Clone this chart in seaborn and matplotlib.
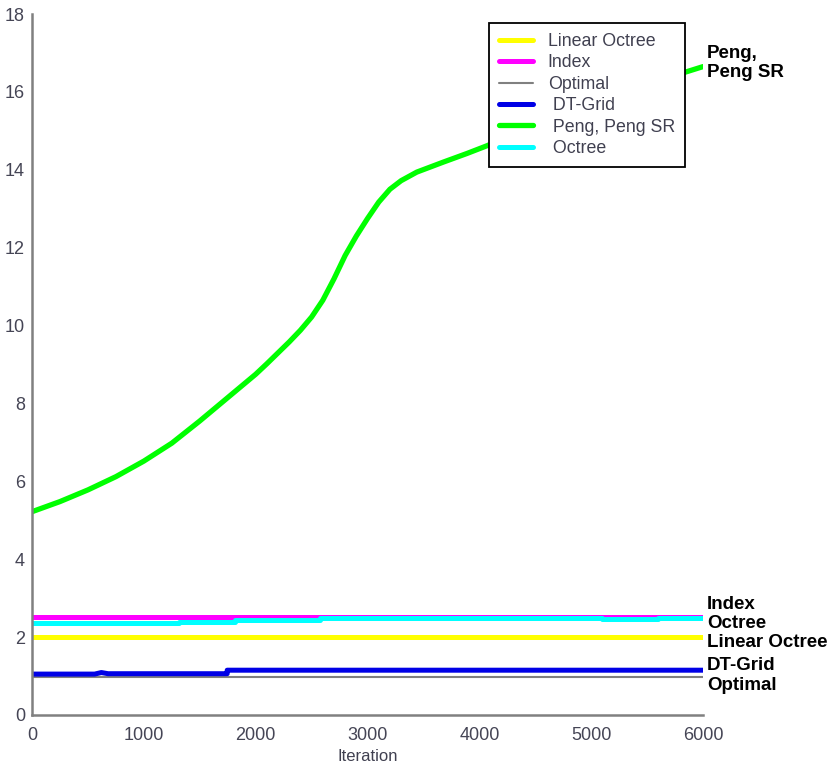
import matplotlib
matplotlib.use("Agg")
import matplotlib.pyplot as plt
import seaborn as sns
import pandas as pd
from matplotlib.lines import Line2D

# Memory usage per method over iterations
peng_iter = [0, 250, 500, 750, 1000, 1250, 1500, 1750, 2000, 2100, 2200, 2300, 2400, 2500,
             2600, 2700, 2800, 2900, 3000, 3100, 3200, 3300, 3440, 3680, 3890, 4070,
             4500, 5000, 5500, 6000]
peng_val = [5.22, 5.48, 5.78, 6.12, 6.52, 6.98, 7.55, 8.15, 8.75, 9.02, 9.3, 9.58, 9.88, 10.22,
            10.65, 11.2, 11.8, 12.3, 12.75, 13.17, 13.5, 13.72, 13.94, 14.2, 14.42, 14.62,
            15.15, 15.7, 16.2, 16.65]

index_iter = [0, 6000]
index_val = [2.52, 2.52]

octree_iter = [0, 1317, 1317, 1816, 1816, 2577, 2577, 5100, 5100, 5600, 5600, 6000]
octree_val = [2.36, 2.36, 2.40, 2.40, 2.44, 2.44, 2.49, 2.49, 2.47, 2.47, 2.50, 2.50]

linear_iter = [0, 6000]
linear_val = [2.0, 2.0]

dtgrid_iter = [0, 560, 620, 680, 1745, 1745, 6000]
dtgrid_val = [1.05, 1.05, 1.09, 1.06, 1.06, 1.15, 1.15]

optimal_iter = [0, 6000]
optimal_val = [0.97, 0.97]

series = {
    "Linear Octree": (linear_iter, linear_val),
    "Index": (index_iter, index_val),
    "Octree": (octree_iter, octree_val),
    "Optimal": (optimal_iter, optimal_val),
    "DT-Grid": (dtgrid_iter, dtgrid_val),
    "Peng, Peng SR": (peng_iter, peng_val),
}
colors = {
    "Linear Octree": "#ffff00",
    "Index": "#ff00ff",
    "Optimal": "#808080",
    "DT-Grid": "#0000e6",
    "Peng, Peng SR": "#00ff00",
    "Octree": "#00ffff",
}
widths = {
    "Linear Octree": 3.6,
    "Index": 3.6,
    "Optimal": 1.5,
    "DT-Grid": 3.6,
    "Peng, Peng SR": 3.8,
    "Octree": 3.6,
}

legend_order = ["Linear Octree", "Index", "Optimal", "DT-Grid", "Peng, Peng SR", "Octree"]
legend_text = ["Linear Octree", "Index", "Optimal", " DT-Grid", " Peng, Peng SR", " Octree"]

end_labels = [("Index", 2.83), ("Octree", 2.34), ("Linear Octree", 1.85),
              ("DT-Grid", 1.28), ("Optimal", 0.75), ("Peng,\nPeng SR", 16.74)]

sns.set_style("white")
plt.rcParams["font.family"] = ["Liberation Sans", "DejaVu Sans"]

fig = plt.figure(figsize=(8.34, 7.66), dpi=100)
ax = fig.add_axes([0.0384, 0.0666, 0.8046, 0.9151])

for name in ["Linear Octree", "Index", "Octree", "Optimal", "DT-Grid", "Peng, Peng SR"]:
    xs, ys = series[name]
    df = pd.DataFrame({"Iteration": xs, "Value": ys})
    sns.lineplot(data=df, x="Iteration", y="Value", ax=ax, color=colors[name],
                 linewidth=widths[name], sort=False, estimator=None, legend=False)

ax.set_xlim(0, 6000)
ax.set_ylim(0, 18)
ax.set_xticks(range(0, 6001, 1000))
ax.set_yticks(range(0, 19, 2))
ax.set_xlabel("Iteration", fontsize=12, color="#404050", labelpad=3)
ax.set_ylabel("")
ax.tick_params(axis="both", direction="in", length=4, width=1.2, color="#505050",
               labelsize=13, labelcolor="#454555")
ax.tick_params(axis="x", pad=9)
ax.tick_params(axis="y", pad=5)

for side in ["top", "right"]:
    ax.spines[side].set_visible(False)
for side in ["left", "bottom"]:
    ax.spines[side].set_color("#808080")
    ax.spines[side].set_linewidth(1.8)

handles = [Line2D([0], [0], color=colors[n], linewidth=widths[n] if n != "Optimal" else 1.5)
           for n in legend_order]
leg = ax.legend(handles, legend_text, loc="upper left", bbox_to_anchor=(0.681, 0.987),
                frameon=True, fancybox=False, framealpha=1, edgecolor="black",
                prop={"size": 12.8}, handlelength=1.9, handletextpad=0.85,
                labelspacing=0.25, borderpad=0.55, borderaxespad=0)
leg.get_frame().set_linewidth(1.3)
for t in leg.get_texts():
    t.set_color("#404050")

for text, yv in end_labels:
    ax.annotate(text, xy=(6000, yv), xytext=(3, 0), textcoords="offset points",
                ha="left", va="center", fontsize=13.5, fontweight="bold",
                color="black", annotation_clip=False, linespacing=1.2)

fig.savefig("out.png", dpi=100)
